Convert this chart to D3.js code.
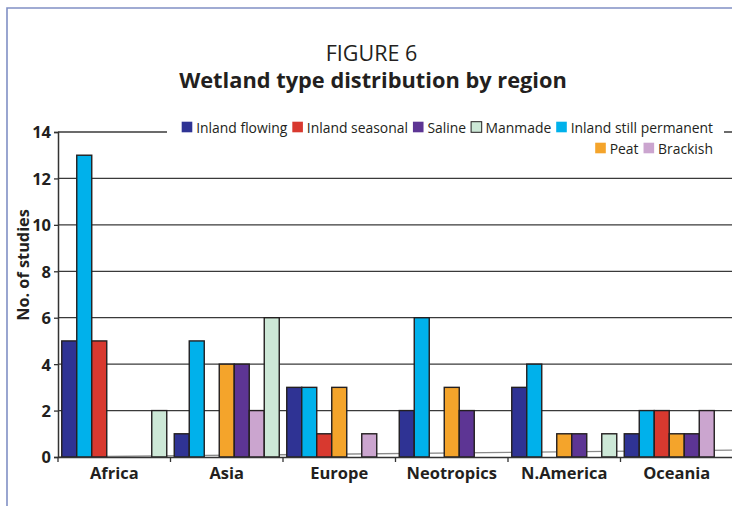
<!DOCTYPE html>
<html>
<head>
<meta charset="utf-8">
<script src="https://cdn.jsdelivr.net/npm/d3@7"></script>
<style>
  html, body { margin: 0; padding: 0; background: #fff; }
  svg { display: block; }
  text { font-family: "Open Sans", "Noto Sans", sans-serif; fill: #231f20; }
</style>
</head>
<body>
<svg id="chart" width="732" height="506"></svg>
<script>
// ---- data ----
const regions = ["Africa", "Asia", "Europe", "Neotropics", "N.America", "Oceania"];
const legendOrder = ["Inland flowing", "Inland seasonal", "Saline", "Manmade", "Inland still permanent", "Peat", "Brackish"];
const barOrder = ["Inland flowing", "Inland still permanent", "Inland seasonal", "Peat", "Saline", "Brackish", "Manmade"];
const inlandFlowing        = [5, 1, 3, 2, 3, 1];
const inlandStillPermanent = [13, 5, 3, 6, 4, 2];
const inlandSeasonal       = [5, 0, 1, 0, 0, 2];
const peat                 = [0, 4, 3, 3, 1, 1];
const saline               = [0, 4, 0, 2, 1, 1];
const brackish             = [0, 2, 1, 0, 0, 2];
const manmade              = [2, 6, 0, 0, 1, 0];
const yTicks = [0, 2, 4, 6, 8, 10, 12, 14];

const seriesValues = {
  "Inland flowing": inlandFlowing,
  "Inland still permanent": inlandStillPermanent,
  "Inland seasonal": inlandSeasonal,
  "Peat": peat,
  "Saline": saline,
  "Brackish": brackish,
  "Manmade": manmade
};
const colors = {
  "Inland flowing": "#2f3394",
  "Inland seasonal": "#d8392f",
  "Saline": "#5d3594",
  "Manmade": "#cde8d7",
  "Inland still permanent": "#00b1eb",
  "Peat": "#f4a42b",
  "Brackish": "#cba5cf"
};

(function () {
const svg = d3.select("#chart");
const pLeft = 58, pRight = 733, pTop = 132, pBottom = 457;

// frame
svg.append("path")
  .attr("d", "M7,520 L7,8 L740,8")
  .attr("fill", "none").attr("stroke", "#8190c5").attr("stroke-width", 1.6);

// titles
svg.append("text").attr("x", 371.5).attr("y", 60.5).attr("text-anchor", "middle")
  .style("font-size", "21.5px").text("FIGURE 6");
svg.append("text").attr("x", 373).attr("y", 87.5).attr("text-anchor", "middle")
  .style("font-size", "21.8px").style("font-weight", "bold")
  .text("Wetland type distribution by region");

const x0 = d3.scaleBand().domain(regions).range([pLeft, pRight]).paddingInner(0).paddingOuter(0);
const x1 = d3.scaleBand().domain(barOrder).range([0, x0.bandwidth()]).paddingInner(0).paddingOuter(0.25);
const y = d3.scaleLinear().domain([0, 14]).range([pBottom, pTop]);

// gridlines
svg.append("g").selectAll("line").data(yTicks.filter(d => d > 0)).join("line")
  .attr("x1", pLeft).attr("x2", 732)
  .attr("y1", d => y(d)).attr("y2", d => y(d))
  .attr("stroke", "#3a3a3a").attr("stroke-width", 1.3);

// slanted floor line
svg.append("line")
  .attr("x1", pLeft).attr("y1", y(0)).attr("x2", pRight).attr("y2", y(0.3))
  .attr("stroke", "#8a8a8a").attr("stroke-width", 1.3);

// y axis
const yAxis = d3.axisLeft(y).tickValues(yTicks).tickSize(4).tickPadding(3).tickFormat(d3.format("d"));
const gy = svg.append("g").attr("transform", `translate(${pLeft},0)`).call(yAxis);
gy.select(".domain").attr("stroke", "#333").attr("stroke-width", 1.5);
gy.selectAll(".tick line").attr("stroke", "#333").attr("stroke-width", 1.3);
gy.selectAll(".tick text").style("font-size", "16.5px").style("font-weight", "bold")
  .style("font-family", "'Open Sans', sans-serif").attr("fill", "#231f20").attr("dy", "0.36em");

// bars
const groups = svg.append("g").selectAll("g").data(regions).join("g")
  .attr("transform", d => `translate(${x0(d)},0)`);
groups.selectAll("rect")
  .data((r, i) => barOrder.map(s => ({ s, v: seriesValues[s][i] })).filter(d => d.v > 0))
  .join("rect")
  .attr("x", d => x1(d.s))
  .attr("y", d => y(d.v))
  .attr("width", x1.bandwidth())
  .attr("height", d => y(0) - y(d.v))
  .attr("fill", d => colors[d.s])
  .attr("stroke", "#231f20").attr("stroke-width", 1.4);

// x axis
const xAxis = d3.axisBottom(x0).tickSize(0).tickPadding(0).tickFormat(d => d);
const gx = svg.append("g").attr("transform", `translate(0,${y(0)})`).call(xAxis);
gx.select(".domain").attr("stroke", "#333").attr("stroke-width", 1.5);
gx.selectAll(".tick text").style("font-size", "16.5px").style("font-weight", "bold")
  .style("font-family", "'Open Sans', sans-serif").attr("fill", "#231f20")
  .attr("y", 21.5).attr("dy", 0);
// separators between categories
svg.append("g").selectAll("line").data(regions).join("line")
  .attr("x1", d => x0(d)).attr("x2", d => x0(d))
  .attr("y1", y(0)).attr("y2", y(0) + 5)
  .attr("stroke", "#333").attr("stroke-width", 1.3);

// y title
svg.append("text")
  .attr("transform", "translate(28.5,265) rotate(-90)")
  .attr("text-anchor", "middle")
  .style("font-size", "16.3px").style("font-weight", "bold")
  .text("No. of studies");

// legend
const lg = svg.append("g");
lg.append("rect").attr("x", 167).attr("y", 118).attr("width", 557).attr("height", 42).attr("fill", "#fff");
const rows = [legendOrder.slice(0, 5), legendOrder.slice(5)];
const rowBase = [133, 154];
const rightEdge = 713;
rows.forEach((row, ri) => {
  const items = row.map(name => {
    const t = lg.append("text").style("font-size", "13.9px").text(name);
    const w = t.node().getComputedTextLength();
    return { name, t, w };
  });
  let xCursor = rightEdge;
  for (let k = items.length - 1; k >= 0; k--) {
    const it = items[k];
    const tx = xCursor - it.w;
    it.t.attr("x", tx).attr("y", rowBase[ri]);
    lg.append("rect")
      .attr("x", tx - 14.5).attr("y", rowBase[ri] - 11.3)
      .attr("width", 10.6).attr("height", 10.6)
      .attr("fill", colors[it.name])
      .attr("stroke", it.name === "Manmade" ? "#231f20" : "none")
      .attr("stroke-width", 1);
    xCursor = tx - 14.5 - 5;
  }
});
})();
</script>
</body>
</html>
